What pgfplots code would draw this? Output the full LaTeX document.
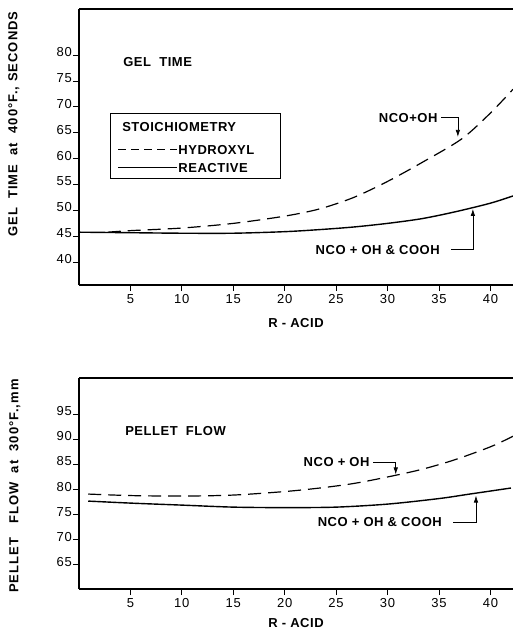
\documentclass[border=0pt]{standalone}
\usepackage{fontspec}
\setmainfont{Liberation Sans}
\usepackage{pgfplots}
\pgfplotsset{compat=1.18}
\usetikzlibrary{arrows.meta}

% letter-spaced label font
\newcommand\lab{\fontsize{13}{15}\selectfont\bfseries\addfontfeatures{LetterSpace=4}}
\newcommand\ylab{\fontsize{13}{15}\selectfont\bfseries\addfontfeatures{LetterSpace=8}}
\newcommand\tck{\fontsize{13}{15}\selectfont\addfontfeatures{LetterSpace=6}}

\tikzset{pointer/.style={line width=0.7pt, -{Latex[length=7pt,width=4.5pt]}}}

\pgfplotsset{
  panel/.style={
    scale only axis, width=434pt,
    xmin=0, xmax=42.2,
    axis x line*=box, axis y line*=left,
    axis line style={-, line width=1.1pt},
    xtick={5,10,...,40}, xtick pos=left, ytick pos=left,
    tick align=outside, major tick length=6pt,
    tick style={line width=0.8pt, black},
    /pgf/number format/assume math mode=true,
    ticklabel style={font=\tck},
    yticklabel style={yshift=3pt, inner sep=1pt},
    xlabel style={font=\lab},
    ylabel style={font=\ylab},
  },
  dashcurve/.style={black, line width=1.2pt, smooth, dash pattern=on 13pt off 7pt},
  solidcurve/.style={black, line width=1.4pt, smooth},
}

\begin{document}
\begin{tikzpicture}
\path[use as bounding box] (0pt,-629pt) rectangle (513pt,0pt);

% ---------- GEL TIME ----------
\begin{axis}[panel, at={(79pt,-285pt)}, anchor=south west,
    height=276pt, ymin=35.6, ymax=88.9, ytick={40,45,...,80},
    xlabel={R - ACID},
    ylabel={GEL~~TIME~~at~~400°F., SECONDS},
    xlabel style={at={(axis description cs:0.5,-0.138)}, anchor=center},
    ylabel style={at={(axis description cs:-0.150,0.583)}, anchor=center}]
\addplot[dashcurve] coordinates {
  (2.8,45.8) (5,46.1) (10,46.6) (15,47.5) (20,48.9) (23.4,50.3) (26.7,52.5)
  (30,55.6) (33.3,59.2) (37.2,63.8) (40,68.8) (42.2,73.4)
};
\addplot[solidcurve] coordinates {
  (0,45.8) (5,45.7) (10,45.6) (15,45.6) (20,45.9) (23.4,46.3) (26.7,46.8)
  (30,47.5) (33.3,48.4) (36.5,49.7) (40,51.4) (42.2,52.8)
};

\node[anchor=west, inner sep=0] at (axis cs:4.29,78.6) {\lab GEL~~TIME};

% legend box
\draw[line width=0.8pt] (axis cs:3.02,68.8) rectangle (axis cs:19.6,56.1);
\node[anchor=west, inner sep=0] at (axis cs:4.19,66.1) {\lab STOICHIOMETRY};
\draw[line width=1pt, dash pattern=on 8pt off 5pt] (axis cs:3.8,61.7) -- (axis cs:9.5,61.7);
\node[anchor=west, inner sep=0] at (axis cs:9.65,61.7) {\lab HYDROXYL};
\draw[line width=1pt] (axis cs:3.8,58.2) -- (axis cs:9.5,58.2);
\node[anchor=west, inner sep=0] at (axis cs:9.65,58.2) {\lab REACTIVE};

% pointers
\node[anchor=west, inner sep=0] at (axis cs:29.14,67.9) {\lab NCO+OH};
\draw[pointer] (axis cs:35.2,67.9) -| (axis cs:36.84,64.2);
\node[anchor=west, inner sep=0] at (axis cs:23.0,42.4) {\lab NCO + OH \& COOH};
\draw[pointer] (axis cs:36.2,42.4) -| (axis cs:38.3,50.3);
\end{axis}

% ---------- PELLET FLOW ----------
\begin{axis}[panel, at={(79pt,-589pt)}, anchor=south west,
    height=211pt, ymin=60.2, ymax=102.2, ytick={65,70,...,95},
    xlabel={R - ACID},
    ylabel={PELLET~~~FLOW~~at~~300°F.,mm},
    xlabel style={at={(axis description cs:0.5,-0.161)}, anchor=center},
    ylabel style={at={(axis description cs:-0.148,0.488)}, anchor=center}]
\addplot[dashcurve] coordinates {
  (0.9,79.1) (5,78.8) (10,78.7) (15,78.9) (20,79.6) (23.4,80.3) (26.7,81.2)
  (30,82.5) (33.3,84.0) (36.5,85.9) (40,88.5) (42.2,90.6)
};
\addplot[solidcurve] coordinates {
  (0.9,77.7) (5,77.3) (10,76.9) (15,76.5) (20,76.4) (25,76.5) (30,77.1)
  (35,78.2) (38,79.1) (42.0,80.3)
};

\node[anchor=west, inner sep=0] at (axis cs:4.48,91.6) {\lab PELLET~~FLOW};

\node[anchor=west, inner sep=0] at (axis cs:21.83,85.5) {\lab NCO + OH};
\draw[pointer] (axis cs:28.6,85.5) -| (axis cs:30.8,83.0);
\node[anchor=west, inner sep=0] at (axis cs:23.2,73.5) {\lab NCO + OH \& COOH};
\draw[pointer] (axis cs:36.4,73.5) -| (axis cs:38.6,78.8);
\end{axis}
\end{tikzpicture}
\end{document}
